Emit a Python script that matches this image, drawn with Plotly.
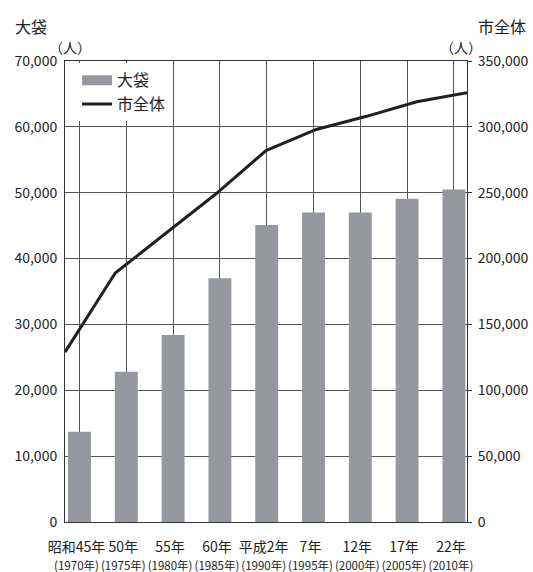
import plotly.graph_objects as go

era_labels = ["昭和45年", "50年", "55年", "60年", "平成2年", "7年", "12年", "17年", "22年"]
ad_years = ["1970", "1975", "1980", "1985", "1990", "1995", "2000", "2005", "2010"]
obukuro = [13700, 22800, 28400, 37000, 45100, 47000, 47000, 49100, 50500]
city_total = [129000, 189000, 219000, 249000, 282000, 298000, 308000, 319000, 326000]

left_ticks = list(range(0, 70001, 10000))
right_ticks = list(range(0, 350001, 50000))

BAR_COLOR = "#96989f"
LINE_COLOR = "#231f20"
GRID = "#555555"
AXIS = "#333333"
TEXT = "#222222"
FONT = "Noto Sans CJK JP"

tick_text = [f"{a}<br><span style='font-size:11.5px'>({b}年)</span>" for a, b in zip(era_labels, ad_years)]
pos = list(range(len(era_labels)))

fig = go.Figure()
fig.add_trace(go.Bar(x=pos, y=obukuro, width=0.49, marker=dict(color=BAR_COLOR, line=dict(width=0)),
                     name="大袋", showlegend=False, xaxis="x", yaxis="y"))
# legend proxy for the bar series (wide rectangle swatch)
fig.add_trace(go.Scatter(x=[None], y=[None], mode="lines", line=dict(color=BAR_COLOR, width=10),
                         name="大袋", xaxis="x", yaxis="y"))
fig.add_trace(go.Scatter(x=pos, y=city_total, mode="lines", line=dict(color=LINE_COLOR, width=3),
                         name="市全体", xaxis="x2", yaxis="y2"))

fig.update_layout(
    width=533, height=572,
    margin=dict(l=65, r=66, t=61, b=50, autoexpand=False),
    paper_bgcolor="white", plot_bgcolor="white",
    font=dict(family=FONT, size=14, color=TEXT),
    showlegend=True,
    legend=dict(x=0.03, y=0.995, xanchor="left", yanchor="top", bgcolor="rgba(255,255,255,1)",
                font=dict(size=16, color=TEXT), borderwidth=0, tracegroupgap=0),
    xaxis=dict(range=[-0.31, 8.28], tickmode="array", tickvals=pos, ticktext=tick_text,
               tickangle=0, automargin=False, ticklabelstandoff=12, ticklabelshift=-3,
               showgrid=True, gridcolor=GRID, gridwidth=1, zeroline=False,
               showline=True, linecolor=AXIS, linewidth=1, mirror=True, ticks="",
               tickfont=dict(size=14, color=TEXT)),
    xaxis2=dict(overlaying="x", range=[0, 8], visible=False),
    yaxis=dict(range=[0, 70000], tickmode="array", tickvals=left_ticks, tickformat=",d",
               automargin=False,
               showgrid=True, gridcolor=GRID, gridwidth=1, zeroline=False,
               showline=True, linecolor=AXIS, linewidth=1, ticks="", ticklabelstandoff=4,
               tickfont=dict(size=14, color=TEXT)),
    yaxis2=dict(overlaying="y", side="right", range=[0, 350000], tickmode="array", tickvals=right_ticks,
                tickformat=",d", showgrid=False, zeroline=False, showline=True, linecolor=AXIS, linewidth=1,
                automargin=False,
                ticks="outside", ticklen=4, tickcolor=AXIS, ticklabelstandoff=3,
                tickfont=dict(size=14, color=TEXT)),
    annotations=[
        dict(text="大袋", xref="paper", yref="paper", x=-0.129, y=1.077, xanchor="left", yanchor="middle",
             showarrow=False, font=dict(size=16, color=TEXT)),
        dict(text="（人）", xref="paper", yref="paper", x=0.012, y=1.03, xanchor="center", yanchor="middle",
             showarrow=False, font=dict(size=14, color=TEXT)),
        dict(text="市全体", xref="paper", yref="paper", x=1.086, y=1.077, xanchor="center", yanchor="middle",
             showarrow=False, font=dict(size=16, color=TEXT)),
        dict(text="（人）", xref="paper", yref="paper", x=0.985, y=1.03, xanchor="center", yanchor="middle",
             showarrow=False, font=dict(size=14, color=TEXT)),
    ],
)

fig.write_html("out.html")
